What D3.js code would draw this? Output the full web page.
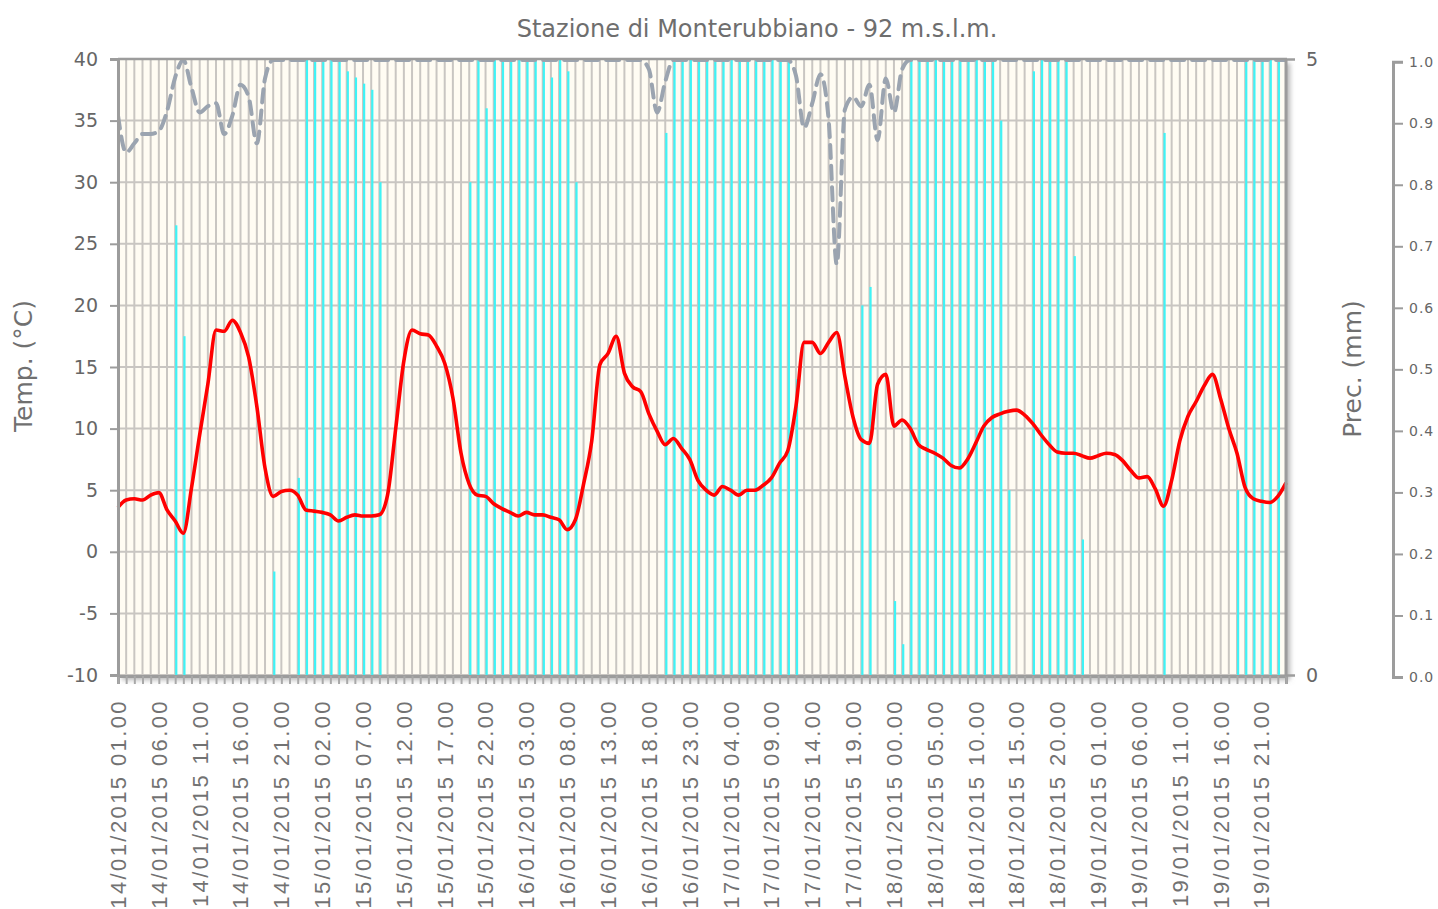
<!DOCTYPE html>
<html><head><meta charset="utf-8">
<script src="https://cdn.jsdelivr.net/npm/d3@7/dist/d3.min.js"></script>
<style>
body{margin:0;background:#fff;}
svg{display:block;}
text{font-family:"DejaVu Sans",sans-serif;fill:#666;}
</style></head><body>
<svg id="chart" width="1438" height="909"></svg>
<script>
// ---- data ----
const chartTitle = "Stazione di Monterubbiano - 92 m.s.l.m.";
const startHour = new Date(2015, 0, 14, 1);
const temperature = [
3.6,4.2,4.3,4.2,4.6,4.8,3.4,2.5,1.5,5.2,
9.5,13.6,18.0,17.9,18.8,17.8,15.8,11.8,6.8,4.5,
4.9,5.0,4.6,3.4,3.3,3.2,3.0,2.5,2.8,3.0,
2.9,2.9,3.0,4.6,10.0,15.5,18.0,17.7,17.6,16.7,
15.3,12.5,8.0,5.5,4.6,4.5,3.9,3.5,3.2,2.9,
3.2,3.0,3.0,2.8,2.6,1.8,2.6,5.5,9.0,15.2,
16.1,17.5,14.5,13.4,13.0,11.2,9.8,8.7,9.2,8.4,
7.5,5.8,5.0,4.6,5.3,5.0,4.6,5.0,5.0,5.4,
6.0,7.2,8.2,11.8,17.0,17.0,16.1,17.0,17.8,14.2,
10.9,9.1,8.8,13.6,14.4,10.2,10.7,10.0,8.7,8.3,
8.0,7.6,7.0,6.8,7.5,8.8,10.2,10.9,11.2,11.4,
11.5,11.1,10.4,9.5,8.7,8.1,8.0,8.0,7.8,7.6,
7.8,8.0,7.9,7.4,6.6,6.0,6.1,5.1,3.7,5.8,
9.0,11.0,12.2,13.5,14.4,12.4,10.0,8.0,5.2,4.3,
4.1,4.0,4.5,5.6
];
const precipitation = [
0,0,0,0,0,0,0,3.65,2.75,0,
0,0,0,0,0,0,0,0,0,0.84,
0,0,1.6,5,5,5,5,5,4.9,4.85,
4.8,4.75,4.0,0,0,0,0,0,0,0,
0,0,0,4.0,5,4.6,5,5,5,5,
5,5,5,4.85,5,4.9,4.0,0,0,0,
0,0,0,0,0,0,0,4.4,5,5,
5,5,5,5,5,5,5,5,5,5,
5,5,5,2.4,0,0,0,0,0,0,
0,3.0,3.15,0,0,0.6,0.25,5,5,5,
5,5,5,5,5,5,5,5,4.5,1.5,
0,0,4.9,5,5,5,5,3.4,1.1,0,
0,0,0,0,0,0,0,0,4.4,0,
0,0,0,0,0,0,0,1.5,5,5,
5,5,5,0
];
const humidity = [
0.91,0.85,0.865,0.88,0.88,0.885,0.917,0.972,1,0.955,
0.915,0.925,0.93,0.88,0.91,0.96,0.94,0.865,0.97,1,
1,1,1,1,1,1,1,1,1,1,
1,1,1,1,1,1,1,1,1,1,
1,1,1,1,1,1,1,1,1,1,
1,1,1,1,1,1,1,1,1,1,
1,1,1,1,1,0.985,0.915,0.965,1,1,
1,1,1,1,1,1,1,1,1,1,
1,1,1,0.975,0.89,0.93,0.977,0.904,0.669,0.92,
0.94,0.925,0.96,0.87,0.97,0.915,0.985,1,1,1,
1,1,1,1,1,1,1,1,1,1,
1,1,1,1,1,1,1,1,1,1,
1,1,1,1,1,1,1,1,1,1,
1,1,1,1,1,1,1,1,1,1,
1,1,1,1
];
const tempTicks = [-10,-5,0,5,10,15,20,25,30,35,40];
const precTicks = [0,5];
const humTicks = [0,0.1,0.2,0.3,0.4,0.5,0.6,0.7,0.8,0.9,1.0];
const xTickLabels = [
"14/01/2015 01.00","14/01/2015 06.00","14/01/2015 11.00","14/01/2015 16.00","14/01/2015 21.00",
"15/01/2015 02.00","15/01/2015 07.00","15/01/2015 12.00","15/01/2015 17.00","15/01/2015 22.00",
"16/01/2015 03.00","16/01/2015 08.00","16/01/2015 13.00","16/01/2015 18.00","16/01/2015 23.00",
"17/01/2015 04.00","17/01/2015 09.00","17/01/2015 14.00","17/01/2015 19.00",
"18/01/2015 00.00","18/01/2015 05.00","18/01/2015 10.00","18/01/2015 15.00","18/01/2015 20.00",
"19/01/2015 01.00","19/01/2015 06.00","19/01/2015 11.00","19/01/2015 16.00","19/01/2015 21.00"
];

// ---- layout ----
const L = 118, R = 1286, T = 59, B = 675;
const svg = d3.select("#chart");
const fmt = d3.timeFormat("%d/%m/%Y %H.%M");
const hours = temperature.map((d,i) => fmt(d3.timeHour.offset(startHour, i)));
const data = hours.map((h,i) => ({h, t: temperature[i], p: precipitation[i], u: humidity[i]}));

const x = d3.scalePoint().domain(hours).range([L, R]);
const yT = d3.scaleLinear().domain([-10, 40]).range([B, T]);
const yP = d3.scaleLinear().domain([0, 5]).range([B, T]);
const yH = d3.scaleLinear().domain([0, 1]).range([677, 60]);
const yHAxis = d3.scaleLinear().domain([0, 1]).range([677, 61.7]);

const defs = svg.append("defs");
const f = defs.append("filter").attr("id","sh").attr("x","-5%").attr("y","-5%").attr("width","115%").attr("height","115%");
f.append("feDropShadow").attr("dx",4).attr("dy",4).attr("stdDeviation",2.5)
  .attr("flood-color","#777").attr("flood-opacity",0.55);
defs.append("clipPath").attr("id","clip").append("rect")
  .attr("x",L).attr("y",T).attr("width",R-L).attr("height",B-T);

// title
svg.append("text").attr("x",757).attr("y",37).attr("text-anchor","middle")
  .style("font-size","24px").style("fill","#6e6e6e").text(chartTitle);

// plot background with shadow
svg.append("rect").attr("x",L).attr("y",T).attr("width",R-L).attr("height",B-T+1)
  .attr("fill","#fffcf3").attr("filter","url(#sh)");

// grid
const grid = svg.append("g");
grid.selectAll("line.v").data(hours).join("line")
  .attr("x1",d=>x(d)).attr("x2",d=>x(d)).attr("y1",T).attr("y2",B)
  .attr("stroke","#c9c6c2").attr("stroke-width",2);
grid.selectAll("line.hz").data(tempTicks).join("line")
  .attr("x1",L).attr("x2",R).attr("y1",d=>yT(d)).attr("y2",d=>yT(d))
  .attr("stroke","#c9c6c2").attr("stroke-width",2);

// precipitation bars
svg.append("g").attr("clip-path","url(#clip)")
  .selectAll("rect").data(data.filter(d=>d.p>0)).join("rect")
  .attr("x",d=>x(d.h)).attr("width",2.2)
  .attr("y",d=>yP(d.p)).attr("height",d=>B-yP(d.p))
  .attr("fill","#3ff3f6");

// humidity dashed line
svg.append("g").attr("clip-path","url(#clip)").append("path").datum(data)
  .attr("d", d3.line().x(d=>x(d.h)).y(d=>yH(d.u)).curve(d3.curveMonotoneX))
  .attr("fill","none").attr("stroke","#9ba4b0").attr("stroke-width",4)
  .attr("stroke-dasharray","13,8").attr("stroke-linecap","round");

// temperature line
svg.append("path").datum(data)
  .attr("d", d3.line().x(d=>x(d.h)).y(d=>yT(d.t)).curve(d3.curveMonotoneX))
  .attr("fill","none").attr("stroke","#ff0000").attr("stroke-width",3.6)
  .attr("stroke-linejoin","round");

// frame
const frame = svg.append("g").attr("stroke","#9c9c9c");
frame.append("line").attr("x1",L).attr("x2",R+1).attr("y1",T).attr("y2",T).attr("stroke-width",2.5);
frame.append("line").attr("x1",R).attr("x2",R).attr("y1",T).attr("y2",B+2).attr("stroke-width",3);

// bottom axis with hourly ticks
const xAxisTicks = svg.append("g").attr("transform",`translate(0,${B+1})`)
  .call(d3.axisBottom(x).tickValues(hours).tickSize(8).tickFormat(""));
xAxisTicks.select(".domain").attr("stroke","#9c9c9c").attr("stroke-width",3);
xAxisTicks.selectAll(".tick line").attr("stroke","#a8a8a8").attr("stroke-width",2);

// x labels
svg.append("g").selectAll("text").data(xTickLabels).join("text")
  .attr("transform",d=>`translate(${x(d)},699) rotate(-90)`)
  .attr("text-anchor","end").attr("dy","0.36em")
  .style("font-family","'Liberation Sans',Arial,sans-serif")
  .style("font-size","22px").style("letter-spacing","2.4px").style("fill","#727272")
  .text(d=>d);

// left axis
const yAxisL = svg.append("g").attr("transform",`translate(${L},0)`)
  .call(d3.axisLeft(yT).tickValues(tempTicks).tickSize(8).tickPadding(12).tickFormat(d=>String(d)));
yAxisL.select(".domain").attr("stroke","#9c9c9c").attr("stroke-width",3);
yAxisL.selectAll(".tick line").attr("stroke","#9c9c9c").attr("stroke-width",2);
yAxisL.selectAll(".tick text").style("font-size","19px").style("font-family","'DejaVu Sans',sans-serif").style("fill","#666");

// right precip axis
const yAxisR = svg.append("g").attr("transform",`translate(${R},0)`)
  .call(d3.axisRight(yP).tickValues(precTicks).tickSize(9).tickPadding(11).tickFormat(d=>String(d)));
yAxisR.select(".domain").remove();
yAxisR.selectAll(".tick line").attr("stroke","#9c9c9c").attr("stroke-width",2.5);
yAxisR.selectAll(".tick text").style("font-size","19px").style("font-family","'DejaVu Sans',sans-serif").style("fill","#666");

// third (humidity) axis
const yAxisH = svg.append("g").attr("transform","translate(1393,0)")
  .call(d3.axisRight(yHAxis).tickValues(humTicks).tickSize(10).tickPadding(6).tickFormat(d3.format(".1f")));
yAxisH.select(".domain").attr("stroke","#9c9c9c").attr("stroke-width",3);
yAxisH.selectAll(".tick line").attr("stroke","#9c9c9c").attr("stroke-width",2);
yAxisH.selectAll(".tick text").style("font-size","14px").style("letter-spacing","1px")
  .style("font-family","'DejaVu Sans',sans-serif").style("fill","#666");

// axis titles
svg.append("text").attr("transform","translate(32,366) rotate(-90)").attr("text-anchor","middle")
  .style("font-size","25px").style("fill","#707070").text("Temp. (°C)");
svg.append("text").attr("transform","translate(1361,369) rotate(-90)").attr("text-anchor","middle")
  .style("font-size","25px").style("fill","#707070").text("Prec. (mm)");
</script>
</body></html>
